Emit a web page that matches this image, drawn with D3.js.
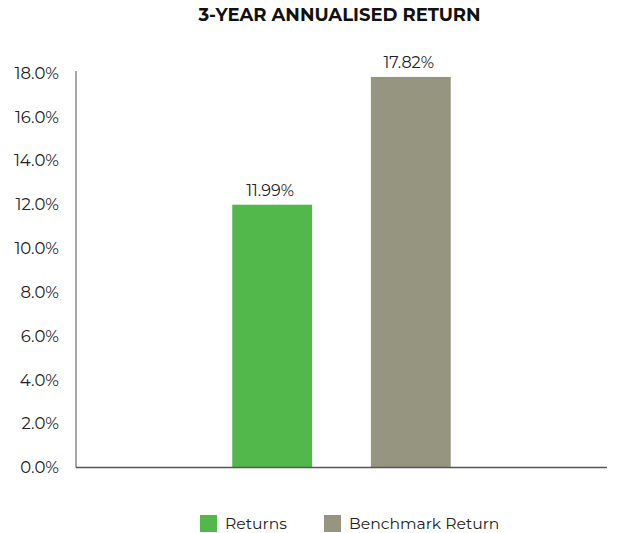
<!DOCTYPE html>
<html>
<head>
<meta charset="utf-8">
<script src="https://cdn.jsdelivr.net/npm/d3@7"></script>
<style>
  body { margin: 0; background: #fff; }
  text { font-family: "Montserrat", "DejaVu Sans", sans-serif; fill: #222; }
</style>
</head>
<body>
<svg id="chart"></svg>
<script>
var categories = ["3-Year"]
var series = ["Returns", "Benchmark Return"]
var values = [11.99, 17.82]
var colors = ["#52b84c", "#96957f"]
var yTicks = [0, 2, 4, 6, 8, 10, 12, 14, 16, 18]

var width = 621,
    height = 533
var margin = {top: 73, right: 14, bottom: 65, left: 76}

var svg = d3.select("#chart")
    .attr("width", width)
    .attr("height", height)

var x0 = d3.scaleBand()
    .domain(categories)
    .range([margin.left, width - margin.right])
    .paddingInner(0)
    .paddingOuter(0.715)

var x1 = d3.scaleBand()
    .domain(series)
    .range([0, x0.bandwidth()])
    .paddingInner(0.424)

var y = d3.scaleLinear()
    .domain([0, 18])
    .range([height - margin.bottom - 0.5, margin.top])

// title
svg.append("text")
    .attr("x", 339.5)
    .attr("y", 21)
    .attr("text-anchor", "middle")
    .style("font-size", "18px")
    .style("font-weight", "bold")
    .style("fill", "#111")
    .text("3-YEAR ANNUALISED RETURN")

// y axis
var yAxis = svg.append("g")
    .attr("transform", "translate(" + margin.left + ",0)")
    .call(d3.axisLeft(y).tickValues(yTicks).tickSize(0).tickPadding(17)
        .tickFormat(function (d) { return d.toFixed(1) + "%" }))
yAxis.select(".domain").attr("stroke", "#888").attr("stroke-width", 1.5)
    .attr("d", "M0," + (y(18) - 2) + "V" + y(0))
yAxis.selectAll("text").style("font-size", "16.5px").style("fill", "#222")

// bars
var groups = svg.append("g")
    .selectAll("g")
    .data(categories)
    .enter().append("g")
    .attr("transform", function (d) { return "translate(" + x0(d) + ",0)" })

groups.selectAll("rect")
    .data(function () { return series.map(function (s, i) { return {name: s, value: values[i], color: colors[i]} }) })
    .enter().append("rect")
    .attr("x", function (d) { return x1(d.name) })
    .attr("width", x1.bandwidth())
    .attr("y", function (d) { return y(d.value) })
    .attr("height", function (d) { return y(0) - y(d.value) })
    .attr("fill", function (d) { return d.color })

groups.selectAll("text.val")
    .data(function () { return series.map(function (s, i) { return {name: s, value: values[i]} }) })
    .enter().append("text")
    .attr("class", "val")
    .attr("x", function (d) { return x1(d.name) + x1.bandwidth() / 2 - 2 })
    .attr("y", function (d) { return y(d.value) - 9 })
    .attr("text-anchor", "middle")
    .style("font-size", "16px")
    .text(function (d) { return d.value.toFixed(2) + "%" })

// x axis line
svg.append("line")
    .attr("x1", margin.left)
    .attr("x2", width - margin.right)
    .attr("y1", y(0))
    .attr("y2", y(0))
    .attr("stroke", "#555")
    .attr("stroke-width", 1.5)

// legend
var legendX = [200, 324]
var legend = svg.append("g")
    .selectAll("g")
    .data(series)
    .enter().append("g")
    .attr("transform", function (d, i) { return "translate(" + legendX[i] + ",515)" })
legend.append("rect")
    .attr("width", 17)
    .attr("height", 17)
    .attr("fill", function (d, i) { return colors[i] })
legend.append("text")
    .attr("x", 25)
    .attr("y", 13.5)
    .style("font-size", "15.6px")
    .text(function (d) { return d })
</script>
</body>
</html>
